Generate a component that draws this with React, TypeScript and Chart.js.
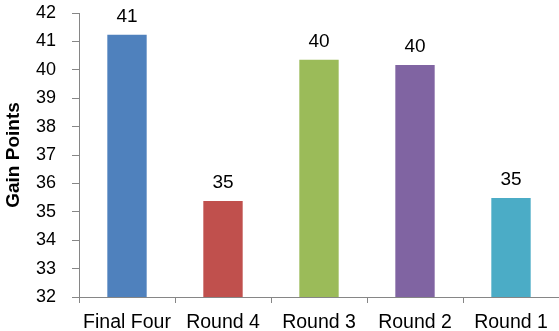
import React, { useEffect, useRef } from "react";
import { Chart, registerables } from "chart.js";

Chart.register(...registerables);

const categories = ["Final Four", "Round 4", "Round 3", "Round 2", "Round 1"];
const gainPoints = [41.23, 35.38, 40.35, 40.17, 35.49];
const valueLabels = ["41", "35", "40", "40", "35"];
const barColors = ["#4F81BD", "#C0504D", "#9BBB59", "#8064A2", "#4BACC6"];
const yMin = 32;
const yMax = 42;

const FONT = "'Liberation Sans', Arial, sans-serif";

const valueLabelPlugin = {
  id: "valueLabels",
  afterDatasetsDraw(chart: any) {
    const ctx = chart.ctx;
    const meta = chart.getDatasetMeta(0);
    ctx.save();
    ctx.font = `19px ${FONT}`;
    ctx.fillStyle = "#000000";
    ctx.textAlign = "center";
    ctx.textBaseline = "alphabetic";
    meta.data.forEach((bar: any, i: number) => {
      ctx.fillText(valueLabels[i], bar.x, bar.y - 13);
    });
    ctx.restore();
  },
};

export default function App() {
  const ref = useRef<HTMLCanvasElement | null>(null);

  useEffect(() => {
    if (!ref.current) return;
    const chart = new Chart(ref.current, {
      type: "bar",
      data: {
        labels: categories,
        datasets: [
          {
            data: gainPoints,
            backgroundColor: barColors,
            borderWidth: 0,
            categoryPercentage: 1,
            barPercentage: 0.41,
          },
        ],
      },
      options: {
        responsive: false,
        animation: false,
        layout: { padding: { top: 13, left: 0, right: 0, bottom: 0 } },
        plugins: {
          legend: { display: false },
          tooltip: { enabled: false },
        },
        scales: {
          x: {
            grid: {
              display: true,
              drawOnChartArea: false,
              drawTicks: true,
              tickLength: 6,
              color: "#868686",
              offset: true,
            },
            border: { display: true, color: "#868686", width: 1 },
            ticks: {
              color: "#000000",
              font: { family: FONT, size: 19.5 },
              padding: 8,
              maxRotation: 0,
              autoSkip: false,
            },
            afterFit(scale: any) {
              scale.height = 34;
              scale.paddingLeft = 0;
              scale.paddingRight = 0;
            },
          },
          y: {
            min: yMin,
            max: yMax,
            grid: {
              display: true,
              drawOnChartArea: false,
              drawTicks: true,
              tickLength: 7,
              color: "#868686",
            },
            border: { display: true, color: "#868686", width: 1 },
            ticks: {
              stepSize: 1,
              color: "#000000",
              font: { family: FONT, size: 18 },
              padding: 16,
            },
            title: {
              display: true,
              text: "Gain Points",
              color: "#000000",
              font: { family: FONT, size: 19, weight: "bold" },
              padding: { top: 2, bottom: 0 },
            },
            afterFit(scale: any) {
              scale.width = 79;
              scale.paddingTop = 0;
              scale.paddingBottom = 0;
            },
          },
        },
      },
      plugins: [valueLabelPlugin],
    });
    return () => chart.destroy();
  }, []);

  return (
    <div style={{ position: "absolute", left: 0, top: 0, width: 559, height: 331 }}>
      <canvas ref={ref} width={559} height={331} style={{ display: "block" }} />
    </div>
  );
}
